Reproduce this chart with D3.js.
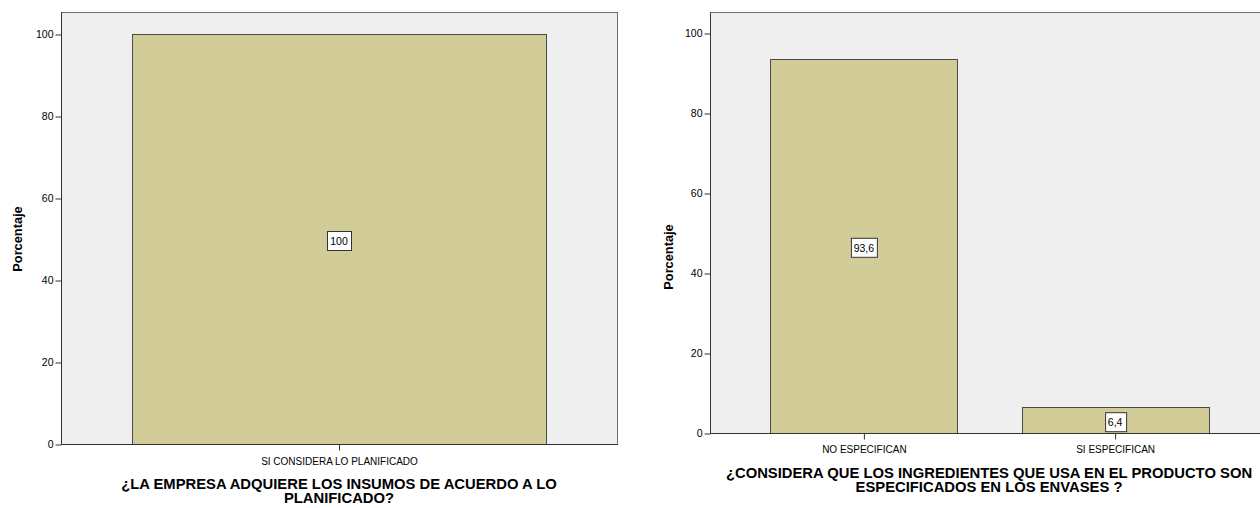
<!DOCTYPE html>
<html>
<head>
<meta charset="utf-8">
<script src="https://cdn.jsdelivr.net/npm/d3@7"></script>
<style>
  html, body { margin: 0; padding: 0; background: #ffffff; }
  svg { display: block; }
  text { font-family: "Liberation Sans", Arial, sans-serif; fill: #000; }
  .cat { font-family: "Liberation Sans Narrow", "Liberation Sans", Arial, sans-serif; font-size: 10px; }
  .tick-lbl { font-size: 10.5px; }
  .ytitle { font-size: 12.8px; font-weight: bold; }
  .xtitle { font-size: 14.8px; font-weight: bold; }
  .val { font-size: 10.5px; }
</style>
</head>
<body>
<svg id="chart" width="1260" height="508"></svg>
<script>
// Chart 1: purchase of supplies according to plan
const leftCategories = ["SI CONSIDERA LO PLANIFICADO"];
const leftValues = [100];
const leftTitle = ["¿LA EMPRESA ADQUIERE LOS INSUMOS DE ACUERDO A LO", "PLANIFICADO?"];

// Chart 2: ingredients specified on the packaging
const rightCategories = ["NO ESPECIFICAN", "SI ESPECIFICAN"];
const rightValues = [93.6, 6.4];
const rightTitle = ["¿CONSIDERA QUE LOS INGREDIENTES QUE USA EN EL PRODUCTO SON", "ESPECIFICADOS EN LOS ENVASES ?"];

// Shared axis
const yTicks = [0, 20, 40, 60, 80, 100];
const yLabel = "Porcentaje";

const fmt = v => String(v).replace(".", ",");
const svg = d3.select("#chart");

function drawChart(opt) {
  const { categories, values, title, x0, x1, top, bottom, padInner, padOuter,
          yTitleX, yTitleY, catY, titleY, titleX } = opt;
  const g = svg.append("g");

  const x = d3.scaleBand().domain(categories).range([x0, x1])
    .paddingInner(padInner).paddingOuter(padOuter);
  // the 100 tick sits a little below the top edge of the frame
  const y = d3.scaleLinear().domain([0, 100]).range([bottom, opt.y100]);

  // plot area
  g.append("rect")
    .attr("x", x0 + 0.5).attr("y", top + 0.5)
    .attr("width", x1 - x0).attr("height", bottom - top)
    .attr("fill", "#efefef")
    .attr("stroke", "#707070").attr("stroke-width", 1);

  // bars
  g.selectAll("rect.bar").data(values).join("rect")
    .attr("class", "bar")
    .attr("x", (d, i) => Math.round(x(categories[i])) + 0.5)
    .attr("y", d => Math.round(y(d)) + 0.5)
    .attr("width", Math.round(x.bandwidth()))
    .attr("height", d => Math.round(y(0)) - Math.round(y(d)))
    .attr("fill", "#d2cd98")
    .attr("stroke", "#4a4a4a").attr("stroke-width", 1);

  // y axis
  const yAxis = d3.axisLeft(y).tickValues(yTicks).tickSize(6).tickPadding(2)
    .tickFormat(d3.format("d"));
  const ya = g.append("g").attr("transform", `translate(${x0 + 0.5},0.5)`).call(yAxis);
  ya.select(".domain").attr("stroke", "#333").attr("d", `M0,${top}V${bottom}`);
  ya.selectAll(".tick line").attr("stroke", "#333");
  ya.selectAll(".tick text").attr("class", "tick-lbl").attr("font-family", null).attr("font-size", null);

  // x axis
  const xAxis = d3.axisBottom(x).tickSize(6).tickPadding(6);
  const xa = g.append("g").attr("transform", `translate(0.5,${bottom + 0.5})`).call(xAxis);
  xa.select(".domain").attr("stroke", "#333").attr("d", `M${x0},0H${x1}`);
  xa.selectAll(".tick line").attr("stroke", "#333");
  xa.selectAll(".tick text").attr("class", "cat").attr("font-family", null).attr("font-size", null)
    .attr("y", catY - bottom).attr("dy", "0.35em");

  // value labels, centred on each bar and kept clear of the axis line
  const lab = g.selectAll("g.valg").data(values).join("g")
    .attr("class", "valg")
    .attr("transform", (d, i) => {
      const cx = x(categories[i]) + x.bandwidth() / 2;
      let cy = (y(d) + y(0)) / 2 + 2;
      cy = Math.min(cy, y(0) - 10);
      return `translate(${cx},${cy})`;
    });
  lab.each(function(d) {
    const gg = d3.select(this);
    const t = gg.append("text").attr("class", "val")
      .attr("text-anchor", "middle").attr("dy", "0.36em").text(fmt(d));
    const w = t.node().getComputedTextLength();
    gg.insert("rect", "text")
      .attr("x", Math.round(-w / 2 - 3) + 0.5).attr("y", -9.5)
      .attr("width", Math.round(w + 6)).attr("height", 19)
      .attr("fill", "#ffffff").attr("stroke", "#333").attr("stroke-width", 1);
  });

  // axis titles
  g.append("text").attr("class", "ytitle")
    .attr("transform", `translate(${yTitleX},${yTitleY}) rotate(-90)`)
    .attr("text-anchor", "middle").text(yLabel);

  g.selectAll("text.xtitle").data(title).join("text")
    .attr("class", "xtitle")
    .attr("x", titleX).attr("y", (d, i) => titleY + i * 13.5)
    .attr("text-anchor", "middle").text(d => d);
}

drawChart({
  categories: leftCategories, values: leftValues, title: leftTitle,
  x0: 61, x1: 617, top: 12, bottom: 444, y100: 34,
  padInner: 0.255, padOuter: 0.123,
  yTitleX: 22, yTitleY: 239, catY: 461, titleY: 489, titleX: 339
});

drawChart({
  categories: rightCategories, values: rightValues, title: rightTitle,
  x0: 710, x1: 1269, top: 12, bottom: 433, y100: 33,
  padInner: 0.255, padOuter: 0.24,
  yTitleX: 673, yTitleY: 257, catY: 449, titleY: 478, titleX: 989
});
</script>
</body>
</html>
